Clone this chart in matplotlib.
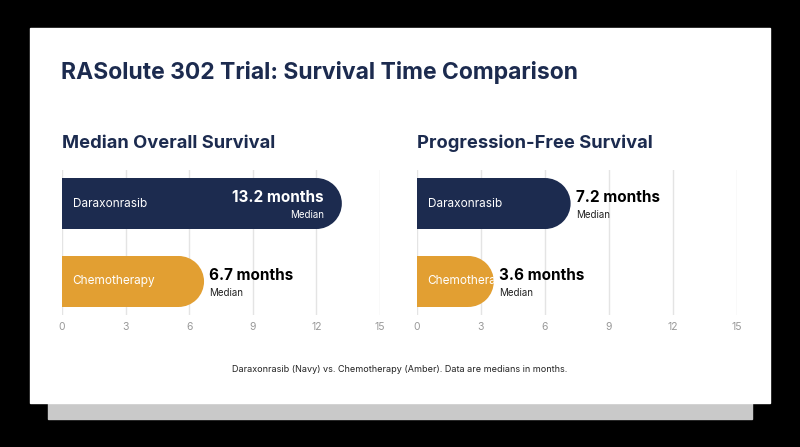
import matplotlib.pyplot as plt
from matplotlib.patches import Rectangle, Ellipse

arms = ['Daraxonrasib', 'Chemotherapy']
os_months = [13.2, 6.7]
pfs_months = [7.2, 3.6]
ticks = [0, 3, 6, 9, 12, 15]
navy = '#1c2b4f'
amber = '#e29f32'
colors = [navy, amber]

W, H = 800, 447
fig = plt.figure(figsize=(8, 4.47), dpi=100, facecolor='black')
plt.rcParams['font.family'] = ['Inter', 'DejaVu Sans']

def fx(x): return x / W
def fy(y): return 1 - y / H

# card and shadow
fig.patches.append(Rectangle((fx(48), fy(419)), fx(752) - fx(48), fy(403) - fy(419),
                             transform=fig.transFigure, color='#c9c9c9', zorder=-2))
fig.patches.append(Rectangle((fx(30), fy(403)), fx(770) - fx(30), fy(28) - fy(403),
                             transform=fig.transFigure, color='white', zorder=-1))

fig.text(fx(61), fy(73), 'RASolute 302 Trial: Survival Time Comparison', color=navy,
         fontsize=16.5, fontweight='bold', va='center')
fig.text(fx(400), fy(369), 'Daraxonrasib (Navy) vs. Chemotherapy (Amber). Data are medians in months.',
         fontsize=6.5, color='#222222', ha='center', va='center')

def panel(x0, x1, title, vals):
    fig.text(fx(x0), fy(143), title, color=navy, fontsize=13.2, fontweight='bold', va='center')
    ax = fig.add_axes([fx(x0), fy(315), fx(x1) - fx(x0), fy(170) - fy(315)], zorder=2)
    ax.set_xlim(0, 15)
    ax.set_ylim(1.43, -0.43)
    ax.axis('off')
    for t in ticks:
        ax.axvline(t, color='#e4e4e4', lw=1, zorder=0)
        ax.text(t, 1.58, str(t), ha='center', va='center', fontsize=7.5, color='#999999',
                clip_on=False)
    r = 25.5 / ((x1 - x0) / 15)
    h = 0.654
    for i, (name, v, c) in enumerate(zip(arms, vals, colors)):
        ax.add_patch(Rectangle((0, i - h / 2), v - r, h, color=c, lw=0, zorder=2))
        ax.add_patch(Ellipse((v - r, i), 2 * r, h, color=c, lw=0, zorder=2))
        ax.text(0.5, i, name, color='white', fontsize=8.5, va='center', zorder=3)
        if v > 10:
            ax.text(v - 0.85, i - 0.08, f'{v} months', color='white', fontsize=11,
                    fontweight='bold', ha='right', va='center', zorder=3)
            ax.text(v - 0.85, i + 0.15, 'Median', color='white', fontsize=7,
                    ha='right', va='center', zorder=3)
        else:
            ax.text(v + 0.25, i - 0.08, f'{v} months', color='black', fontsize=11,
                    fontweight='bold', ha='left', va='center', zorder=3)
            ax.text(v + 0.25, i + 0.15, 'Median', color='#222222', fontsize=7,
                    ha='left', va='center', zorder=3)

panel(62, 380, 'Median Overall Survival', os_months)
panel(417, 737, 'Progression-Free Survival', pfs_months)

fig.savefig('out.png', dpi=100, facecolor='black')
